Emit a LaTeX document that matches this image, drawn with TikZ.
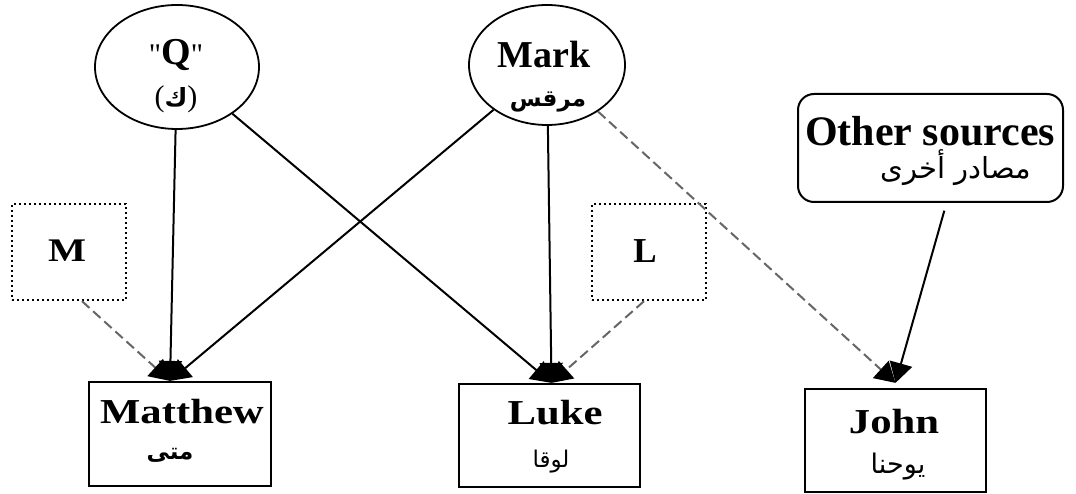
\documentclass[tikz,border=0pt]{standalone}
\usepackage{fontspec}
\setmainfont{Liberation Serif}
\newfontfamily\wideserif[FakeStretch=1.22]{Liberation Serif}
\newfontfamily\quotefont[Ligatures=TeXOff]{Liberation Serif}
\newfontfamily\arabicfont[Script=Arabic]{DejaVu Sans}
\TeXXeTstate=1
\usetikzlibrary{shapes.geometric,arrows.meta,calc}
\begin{document}
\begin{tikzpicture}[x=1pt,y=-1pt,
  src/.style={draw, ellipse, line width=1.8pt, inner sep=0pt},
  book/.style={draw, line width=2.2pt, inner sep=0pt},
  other/.style={draw, line width=2pt, rounded corners=16pt, inner sep=0pt},
  dotbox/.style={draw, line width=2.4pt, dash pattern=on 2.4pt off 2.6pt, inner sep=0pt},
  txt/.style={inner sep=0pt, anchor=center},
  big/.style={txt, font=\bfseries\fontsize{38}{40}\selectfont},
  wide/.style={txt, font=\wideserif\bfseries\fontsize{35}{38}\selectfont},
  ar/.style={txt, font=\arabicfont\fontsize{24}{28}\selectfont},
  arb/.style={txt, font=\arabicfont\bfseries\fontsize{23}{28}\selectfont},
  arr/.style={line width=2pt, -{Triangle[length=20pt,width=23pt]}},
  darr/.style={line width=2pt, color=black!60, dash pattern=on 10pt off 5pt,
    -{Triangle[length=20pt,width=23pt,color=black]}},
]
\useasboundingbox (0,0) rectangle (1076,494);

% shapes
\node[src, minimum width=164pt, minimum height=124pt] (Q) at (177,67) {};
\node[src, minimum width=156pt, minimum height=120pt] (mark) at (547,65) {};
\node[other, minimum width=265pt, minimum height=108pt] (os) at (930.5,148) {};
\node[dotbox, minimum width=114pt, minimum height=96pt] (M) at (69,252) {};
\node[dotbox, minimum width=114pt, minimum height=96pt] (L) at (649,252) {};
\node[book, minimum width=182pt, minimum height=104pt] (mat) at (180,434) {};
\node[book, minimum width=181pt, minimum height=103pt] (luke) at (549.5,435.5) {};
\node[book, minimum width=181pt, minimum height=103pt] (john) at (895.5,440.5) {};

% texts
\node[big] (qt) at (176,55) {{\quotefont\mdseries\fontsize{30}{32}\selectfont"}Q{\quotefont\mdseries\fontsize{30}{32}\selectfont"}};
\node[arb, font=\arabicfont\bfseries\fontsize{25}{28}\selectfont] (qa) at (176,99) {{\rmfamily\mdseries\fontsize{30}{32}\selectfont(}ك{\rmfamily\mdseries\fontsize{30}{32}\selectfont)}};
\node[big] (markt) at (544,55) {Mark};
\node[arb] (marka) at (548,102) {\beginR مرقس\endR};
\node[big, font=\bfseries\fontsize{42}{44}\selectfont] (ost) at (930,131) {Other sources};
\node[ar, font=\arabicfont\fontsize{29}{32}\selectfont] (osa) at (956,168) {\beginR مصادر أخرى\endR};
\node[wide, font=\wideserif\bfseries\fontsize{33}{36}\selectfont] (Mt) at (67,251) {M};
\node[big, font=\bfseries\fontsize{35}{38}\selectfont] (Lt) at (645,251) {L};
\node[wide] (matt) at (182,412) {Matthew};
\node[arb] (mata) at (170,455) {\beginR متى\endR};
\node[wide] (luket) at (555,413) {Luke};
\node[ar, font=\arabicfont\fontsize{23}{28}\selectfont] (lukea) at (551,462) {\beginR لوقا\endR};
\node[wide] (johnt) at (894,422) {John};
\node[ar, font=\arabicfont\fontsize{27}{30}\selectfont] (johna) at (898,467) {\beginR يوحنا\endR};

% arrow ends
\coordinate (matTip) at ($(mat.north)+(-10,0)$);
\coordinate (lukeTip) at ($(luke.north)+(2,0)$);
\coordinate (johnTip) at ($(john.north)+(0,-5)$);

% connectors
\draw[darr] ($(M.south)+(13,0)$) -- (matTip);
\draw[darr] ($(L.south)+(-5,0)$) -- (lukeTip);
\draw[darr] (mark) -- (johnTip);
\draw[arr] (Q) -- (matTip);
\draw[arr] (Q) -- (lukeTip);
\draw[arr] (mark) -- (matTip);
\draw[arr] (mark) -- (lukeTip);
\draw[arr, shorten <=8pt] ($(os.south)+(16,0)$) -- (johnTip);
\end{tikzpicture}
\end{document}
